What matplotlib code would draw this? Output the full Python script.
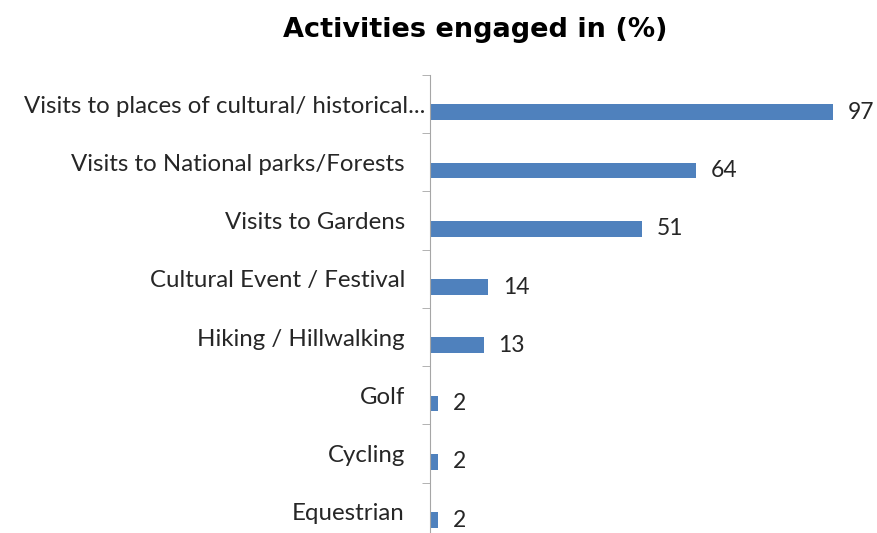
import numpy as np
import matplotlib.pyplot as plt
from matplotlib.ticker import FixedLocator
from matplotlib.transforms import ScaledTranslation

activities = ['Visits to places of cultural/ historical...',
              'Visits to National parks/Forests',
              'Visits to Gardens',
              'Cultural Event / Festival',
              'Hiking / Hillwalking',
              'Golf',
              'Cycling',
              'Equestrian']
percent = [97, 64, 51, 14, 13, 2, 2, 2]

bar_color = '#4F81BD'
axis_color = '#A6A6A6'
text_color = '#262626'

fig = plt.figure(figsize=(8.77, 5.33), dpi=100)
ax = fig.add_axes([0.4903, -0.015, 0.4738, 0.8743])

pos = np.arange(len(activities))
# bars sit a little below the category centre
bars = ax.barh(pos + 0.14, percent, height=0.27, color=bar_color)
for rect, v in zip(bars, percent):
    ax.text(rect.get_width() + 3.5, rect.get_y() + rect.get_height() / 2, str(v),
            va='center', ha='left', fontsize=16.5, family='Lato', color=text_color)

ax.set_xlim(0, 100)
ax.set_ylim(len(activities) - 0.5, -0.5)
ax.set_yticks(pos)
ax.set_yticklabels(activities, fontsize=17.3, family='Lato', color=text_color)
ax.yaxis.set_minor_locator(FixedLocator(np.arange(len(activities) + 1) - 0.5))
ax.tick_params(axis='y', which='major', length=0, pad=18)
ax.tick_params(axis='y', which='minor', length=6, color=axis_color, direction='out')
ax.set_xticks([])
for side in ['top', 'right', 'bottom']:
    ax.spines[side].set_visible(False)
ax.spines['left'].set_color(axis_color)

# the truncated first label runs closer to the axis
first = ax.get_yticklabels()[0]
first.set_transform(first.get_transform() + ScaledTranslation(15 / 72, 0, fig.dpi_scale_trans))

fig.text(0.542, 0.944, 'Activities engaged in (%)', ha='center', va='center',
         fontsize=19.5, fontweight='bold', family='DejaVu Sans', color='black')

fig.savefig('out.png', dpi=100)
